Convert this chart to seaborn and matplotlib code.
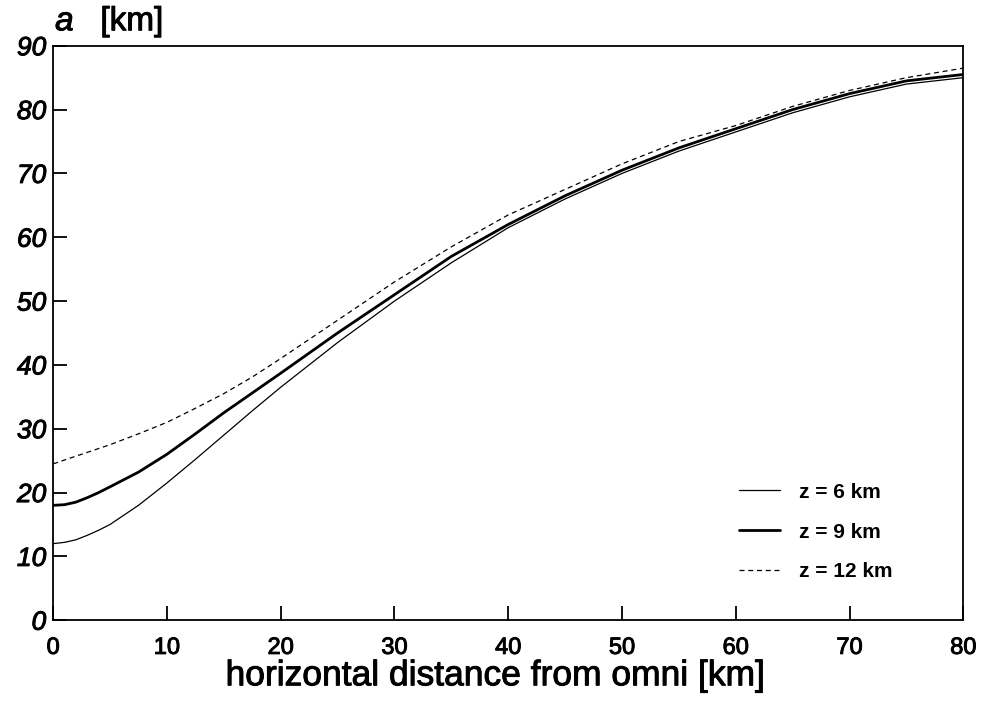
import numpy as np
import pandas as pd
import seaborn as sns
import matplotlib.pyplot as plt
import matplotlib.patheffects as pe

# distances [km] and a [km] for each omni height
dist_z6 = [0, 1, 2, 3, 4, 5, 7.5, 10, 12.5, 15, 17.5, 20, 25, 30, 35, 40, 45, 50, 55, 60, 65, 70, 75, 80]
a_z6 = [12, 12.2, 12.6, 13.3, 14.1, 15, 18, 21.5, 25.2, 29, 32.8, 36.5, 43.5, 50, 56, 61.5, 66, 70, 73.5, 76.5, 79.5, 82, 84, 85]
dist_z9 = [0, 1, 2, 3, 4, 5, 7.5, 10, 12.5, 15, 17.5, 20, 25, 30, 35, 40, 45, 50, 55, 60, 65, 70, 75, 80]
a_z9 = [18, 18.1, 18.5, 19.2, 20, 20.9, 23.2, 26, 29.2, 32.5, 35.6, 38.7, 45, 51, 57, 62, 66.5, 70.5, 74, 77, 80, 82.5, 84.5, 85.5]
dist_z12 = [0, 2.5, 5, 7.5, 10, 12.5, 15, 17.5, 20, 25, 30, 35, 40, 45, 50, 55, 60, 65, 70, 75, 80]
a_z12 = [24.5, 26, 27.5, 29.2, 31, 33.2, 35.5, 38.1, 41, 47, 53, 58.5, 63.5, 67.5, 71.5, 75, 77.5, 80.5, 83, 85, 86.5]
labels = ['z = 6 km', 'z = 9 km', 'z = 12 km']

sns.set_style("white")
plt.rcParams['font.family'] = ['Liberation Sans', 'DejaVu Sans']
plt.rcParams['text.color'] = 'black'
plt.rcParams['xtick.color'] = 'black'
plt.rcParams['ytick.color'] = 'black'
plt.rcParams['axes.labelcolor'] = 'black'

# slightly heavier strokes, like the printed original
thick = [pe.withStroke(linewidth=0.7, foreground='black')]

fig = plt.figure(figsize=(9.84, 7.04), dpi=100)
ax = fig.add_axes([0.054, 0.119, 0.925, 0.816])

series = [(dist_z6, a_z6), (dist_z9, a_z9), (dist_z12, a_z12)]
styles = [dict(lw=0.9, ls='-'), dict(lw=2.0, ls='-'), dict(lw=0.9, ls=(0, (4, 3)))]
for (xs, ys), lab, st in zip(series, labels, styles):
    sns.lineplot(x=xs, y=ys, ax=ax, color='black', label=lab,
                 linewidth=st['lw'], linestyle=st['ls'])

ax.set_xlim(0, 80)
ax.set_ylim(0, 90)
ax.set_xticks(range(0, 81, 10))
ax.set_yticks(range(0, 91, 10))
ax.tick_params(direction='in', length=10, width=1.3, left=True, bottom=True)
ax.tick_params(axis='x', pad=12)
ax.tick_params(axis='y', pad=5)
for lbl in ax.get_xticklabels():
    lbl.set_fontsize(17)
    lbl.set_path_effects(thick)
for lbl in ax.get_yticklabels():
    lbl.set_fontsize(19)
    lbl.set_fontstyle('italic')
    lbl.set_path_effects(thick)
for sp in ax.spines.values():
    sp.set_color('black')
    sp.set_linewidth(1.3)

ax.set_xlabel('horizontal distance from omni [km]', fontsize=25.5,
              path_effects=thick)
ax.xaxis.set_label_coords(0.486, -0.068)
fig.text(0.056, 0.957, 'a', fontsize=24, fontstyle='italic', path_effects=thick)
fig.text(0.102, 0.957, '[km]', fontsize=24, path_effects=thick)

leg = ax.legend(loc='lower left', frameon=False, handlelength=2.0,
                handletextpad=0.9, labelspacing=1.0, borderaxespad=0,
                bbox_to_anchor=(0.744, 0.053),
                prop={'weight': 'bold', 'size': 15})

fig.savefig('out.png', dpi=100)
